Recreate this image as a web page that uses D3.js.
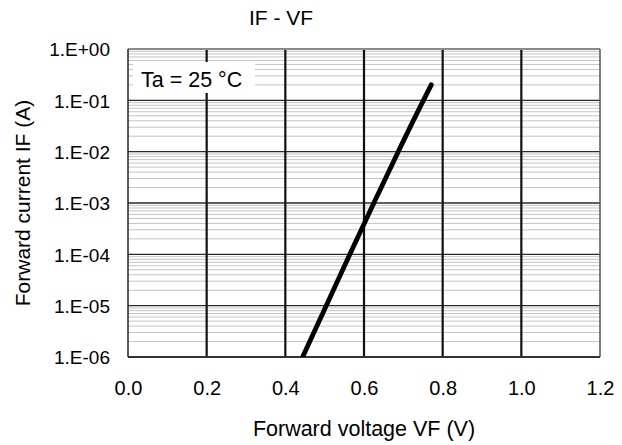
<!DOCTYPE html>
<html>
<head>
<meta charset="utf-8">
<script src="https://cdn.jsdelivr.net/npm/d3@7"></script>
<style>
  html, body { margin: 0; padding: 0; background: #fff; }
  svg { display: block; font-family: "Liberation Sans", Arial, sans-serif; }
</style>
</head>
<body>
<svg id="chart" width="622" height="445"></svg>
<script>
// ---- data ----
const vfValues = [0.444, 0.504, 0.564, 0.625, 0.687, 0.751, 0.771];
const ifValues = [1e-6, 1e-5, 1e-4, 1e-3, 1e-2, 1e-1, 0.2];
const xTicks = [0.0, 0.2, 0.4, 0.6, 0.8, 1.0, 1.2];
const xTickLabels = ["0.0", "0.2", "0.4", "0.6", "0.8", "1.0", "1.2"];
const yTicks = [1, 1e-1, 1e-2, 1e-3, 1e-4, 1e-5, 1e-6];
const yTickLabels = ["1.E+00", "1.E-01", "1.E-02", "1.E-03", "1.E-04", "1.E-05", "1.E-06"];
const titleText = "IF - VF";
const xTitle = "Forward voltage VF (V)";
const yTitle = "Forward current IF (A)";
const legendText = "Ta = 25 °C";

// ---- layout ----
const pLeft = 128, pRight = 600, pTop = 49, pBottom = 357;
const svg = d3.select("#chart");

const x = d3.scaleLinear().domain([0, 1.2]).range([pLeft, pRight]);
const y = d3.scaleLog().domain([1e-6, 1]).range([pBottom, pTop]);

// minor horizontal grid
const minor = [];
for (let e = -6; e < 0; e++) {
  for (let m = 2; m <= 9; m++) minor.push(m * Math.pow(10, e));
}
svg.append("g").selectAll("line").data(minor).join("line")
  .attr("x1", pLeft).attr("x2", pRight)
  .attr("y1", d => y(d)).attr("y2", d => y(d))
  .attr("stroke", "#c4c4c4").attr("stroke-width", 1);

// major horizontal grid
svg.append("g").selectAll("line").data(yTicks.slice(1, -1)).join("line")
  .attr("x1", pLeft).attr("x2", pRight)
  .attr("y1", d => y(d)).attr("y2", d => y(d))
  .attr("stroke", "#2a2a2a").attr("stroke-width", 1.3);

// vertical grid
svg.append("g").selectAll("line").data(xTicks.slice(1, -1)).join("line")
  .attr("x1", d => x(d)).attr("x2", d => x(d))
  .attr("y1", pTop).attr("y2", pBottom)
  .attr("stroke", "#111").attr("stroke-width", 2.2);

// plot frame
svg.append("line").attr("x1", pLeft).attr("x2", pRight).attr("y1", pTop).attr("y2", pTop)
  .attr("stroke", "#8a8a8a").attr("stroke-width", 2);
svg.append("line").attr("x1", pLeft).attr("x2", pRight).attr("y1", pBottom).attr("y2", pBottom)
  .attr("stroke", "#333").attr("stroke-width", 2);
svg.append("line").attr("x1", pLeft).attr("x2", pLeft).attr("y1", pTop).attr("y2", pBottom)
  .attr("stroke", "#222").attr("stroke-width", 1.5);
svg.append("line").attr("x1", pRight).attr("x2", pRight).attr("y1", pTop).attr("y2", pBottom)
  .attr("stroke", "#555").attr("stroke-width", 1.5);

// legend box
svg.append("rect").attr("x", 133).attr("y", 62).attr("width", 122).attr("height", 31)
  .attr("fill", "#fff");
svg.append("text").attr("x", 141).attr("y", 87)
  .attr("font-size", 21.5).attr("fill", "#000").text(legendText);

// curve
svg.append("clipPath").attr("id", "clip").append("rect")
  .attr("x", pLeft).attr("y", pTop).attr("width", pRight - pLeft).attr("height", pBottom - pTop);
const pts = vfValues.map((v, i) => [v, ifValues[i]]);
svg.append("path").datum(pts)
  .attr("clip-path", "url(#clip)")
  .attr("d", d3.line().x(d => x(d[0])).y(d => y(d[1])).curve(d3.curveMonotoneX))
  .attr("fill", "none").attr("stroke", "#000").attr("stroke-width", 4.8)
  .attr("stroke-linecap", "round").attr("stroke-linejoin", "round");

// axes labels
const xAxis = d3.axisBottom(x).tickValues(xTicks).tickFormat((d, i) => xTickLabels[i]).tickSize(0).tickPadding(0);
const gx = svg.append("g").attr("transform", `translate(0,${pBottom})`).call(xAxis);
gx.select(".domain").remove();
gx.selectAll("text").attr("font-size", 20).attr("font-family", "Liberation Sans, Arial, sans-serif")
  .attr("fill", "#000").attr("dy", null).attr("y", 38);

const yAxis = d3.axisLeft(y).tickValues(yTicks).tickFormat((d, i) => yTickLabels[i]).tickSize(0).tickPadding(0);
const gy = svg.append("g").attr("transform", `translate(${pLeft - 18},0)`).call(yAxis);
gy.select(".domain").remove();
gy.selectAll("text").attr("font-size", 19).attr("font-family", "Liberation Sans, Arial, sans-serif")
  .attr("fill", "#000").attr("dy", "0.36em").attr("x", 0);

// titles
svg.append("text").attr("x", 281).attr("y", 25).attr("text-anchor", "middle")
  .attr("font-size", 21).attr("fill", "#000").text(titleText);
svg.append("text").attr("x", (pLeft + pRight) / 2).attr("y", 436).attr("text-anchor", "middle")
  .attr("font-size", 21.5).attr("fill", "#000").text(xTitle);
svg.append("text").attr("transform", `translate(30,${(pTop + pBottom) / 2}) rotate(-90)`)
  .attr("text-anchor", "middle").attr("font-size", 21).attr("fill", "#000").text(yTitle);
</script>
</body>
</html>
